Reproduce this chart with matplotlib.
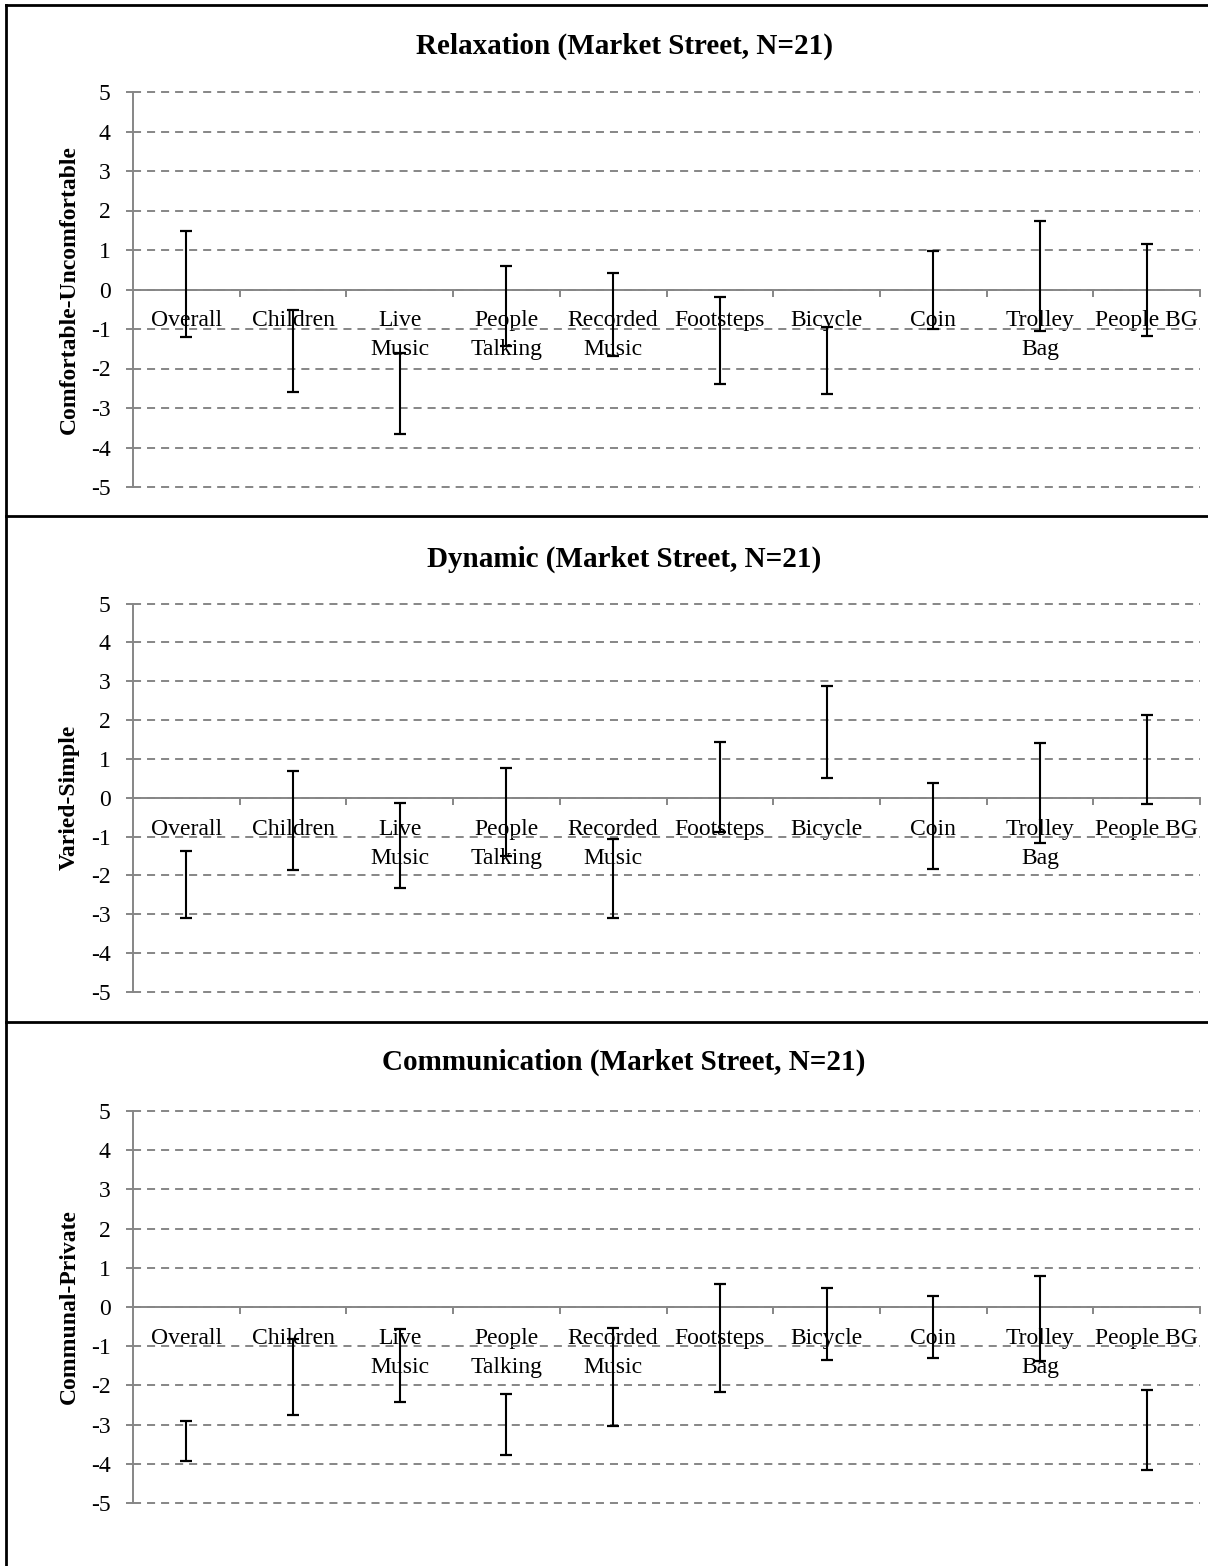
import numpy as np
import matplotlib
matplotlib.use("Agg")
import matplotlib.pyplot as plt
from matplotlib.lines import Line2D

plt.rcParams['font.family'] = ['Liberation Serif', 'DejaVu Serif']
plt.rcParams['lines.scale_dashes'] = False

categories = ["Overall", "Children", "Live\nMusic", "People\nTalking", "Recorded\nMusic",
              "Footsteps", "Bicycle", "Coin", "Trolley\nBag", "People BG"]

# upper / lower end of each range
relax_high = [1.48, -0.53, -1.61, 0.59, 0.42, -0.19, -0.96, 0.98, 1.73, 1.15]
relax_low = [-1.19, -2.60, -3.67, -1.44, -1.69, -2.40, -2.64, -0.99, -1.04, -1.17]

dynamic_high = [-1.36, 0.69, -0.13, 0.77, -1.05, 1.44, 2.88, 0.39, 1.42, 2.13]
dynamic_low = [-3.09, -1.86, -2.32, -1.50, -3.10, -0.89, 0.52, -1.83, -1.16, -0.15]

comm_high = [-2.92, -0.81, -0.56, -2.21, -0.54, 0.59, 0.48, 0.29, 0.79, -2.13]
comm_low = [-3.94, -2.76, -2.43, -3.78, -3.04, -2.17, -1.34, -1.31, -1.37, -4.17]

titles = ["Relaxation (Market Street, N=21)",
          "Dynamic (Market Street, N=21)",
          "Communication (Market Street, N=21)"]
ylabels = ["Comfortable-Uncomfortable", "Varied-Simple", "Communal-Private"]
yticks = [5, 4, 3, 2, 1, 0, -1, -2, -3, -4, -5]

W, H = 1208, 1566
fig = plt.figure(figsize=(W / 100, H / 100), dpi=100)

# pixel layout of the three panels (top, bottom of plot area, title y)
panel_px = [(92, 487, 46), (603.5, 992, 559), (1111, 1503, 1062)]
left_px, right_px = 133, 1200

grey = '#868686'
data = [(relax_high, relax_low), (dynamic_high, dynamic_low), (comm_high, comm_low)]
axes = []

for i in range(3):
    top, bot, ty = panel_px[i]
    ax = fig.add_axes([left_px / W, 1 - bot / H, (right_px - left_px) / W, (bot - top) / H])
    axes.append(ax)
    hi = np.array(data[i][0])
    lo = np.array(data[i][1])
    x = np.arange(len(categories))
    mid = (hi + lo) / 2
    half = (hi - lo) / 2
    ax.errorbar(x, mid, yerr=half, fmt='none', ecolor='black', elinewidth=1.5,
                capsize=4.3, capthick=1.6, zorder=5)

    ax.set_xlim(-0.5, len(categories) - 0.5)
    ax.set_ylim(-5, 5)
    ax.set_yticks(yticks)
    ax.set_yticklabels([str(v) for v in yticks])
    ax.set_xticks(x, minor=True)
    ax.set_xticks(list(x[:-1] + 0.5) + [len(categories) - 0.5])
    ax.set_xticklabels([])
    ax.set_xticklabels(categories, minor=True)
    ax.tick_params(axis='x', which='major', direction='out', length=5, width=1.4, color=grey)
    ax.tick_params(axis='x', which='minor', length=0, pad=15, labelsize=17)
    ax.tick_params(axis='y', direction='out', length=5, width=1.4, color=grey,
                   labelsize=17, pad=11)

    ax.spines['top'].set_visible(False)
    ax.spines['right'].set_visible(False)
    ax.spines['left'].set_color(grey)
    ax.spines['left'].set_linewidth(1.4)
    ax.spines['bottom'].set_position(('data', 0))
    ax.spines['bottom'].set_color(grey)
    ax.spines['bottom'].set_linewidth(1.4)
    ax.spines['bottom'].set_zorder(4)

    ax.yaxis.grid(True, color=grey, linewidth=1.4, linestyle=(0, (5.8, 4.3)))
    ax.set_axisbelow(True)
    for gl in ax.get_ygridlines():
        gl.set_clip_on(False)

    ax.text(-0.06, 0.5, ylabels[i], transform=ax.transAxes, rotation=90,
            ha='center', va='center', fontsize=17, fontweight='bold')
    fig.text(624 / W, 1 - ty / H, titles[i], ha='center', va='center',
             fontsize=21, fontweight='bold')

# panel frames
for yb in [5, 516, 1022]:
    fig.add_artist(Line2D([6 / W, 1], [1 - yb / H, 1 - yb / H], color='black', linewidth=2))
fig.add_artist(Line2D([6 / W, 6 / W], [0, 1 - 5 / H], color='black', linewidth=2))

fig.canvas.draw()
for ax in axes:
    for t in ax.xaxis.get_minor_ticks():
        t.label1.set_linespacing(1.5)

fig.savefig("out.png", dpi=100)
